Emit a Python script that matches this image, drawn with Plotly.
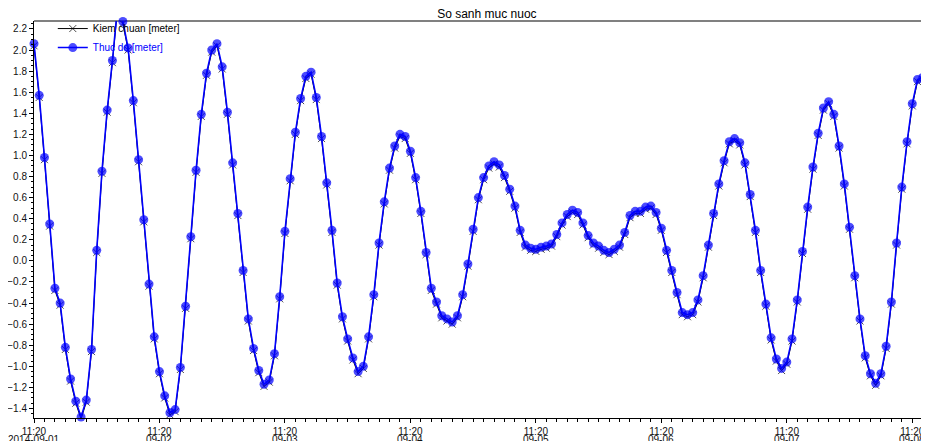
import pandas as pd
import plotly.graph_objects as go

# ---------------- data ----------------
start_time = "2014-09-01 11:20"

thuc_do = [
    2.06, 1.57, 0.98, 0.35, -0.26, -0.40, -0.82, -1.12, -1.33, -1.48,
    -1.32, -0.84, 0.10, 0.85, 1.43, 1.90, 2.42, 2.27, 2.02, 1.52,
    0.96, 0.39, -0.22, -0.72, -1.05, -1.28, -1.44, -1.41, -1.01, -0.43,
    0.23, 0.86, 1.39, 1.78, 2.00, 2.06, 1.84, 1.41, 0.93, 0.45,
    -0.09, -0.55, -0.83, -1.04, -1.17, -1.13, -0.88, -0.34, 0.28, 0.78,
    1.22, 1.54, 1.75, 1.79, 1.55, 1.18, 0.74, 0.29, -0.21, -0.53,
    -0.74, -0.92, -1.05, -1.00, -0.72, -0.32, 0.17, 0.56, 0.88, 1.09,
    1.20, 1.18, 1.04, 0.79, 0.47, 0.08, -0.26, -0.39, -0.52, -0.55,
    -0.58, -0.52, -0.32, -0.03, 0.30, 0.60, 0.79, 0.90, 0.94, 0.91,
    0.81, 0.68, 0.52, 0.29, 0.15, 0.12, 0.11, 0.13, 0.14, 0.16,
    0.25, 0.36, 0.44, 0.48, 0.46, 0.36, 0.24, 0.17, 0.14, 0.10,
    0.08, 0.11, 0.15, 0.27, 0.43, 0.47, 0.47, 0.51, 0.52, 0.46,
    0.31, 0.10, -0.09, -0.30, -0.49, -0.51, -0.49, -0.37, -0.14, 0.15,
    0.45, 0.73, 0.95, 1.13, 1.16, 1.12, 0.93, 0.63, 0.29, -0.09,
    -0.41, -0.73, -0.93, -1.02, -0.96, -0.74, -0.37, 0.09, 0.51, 0.89,
    1.21, 1.45, 1.51, 1.39, 1.09, 0.73, 0.32, -0.14, -0.55, -0.90,
    -1.07, -1.16, -1.07, -0.81, -0.39, 0.17, 0.70, 1.13, 1.49, 1.72,
    1.74, 1.54,
]

kiem_chuan = [
    2.04, 1.55, 0.96, 0.33, -0.28, -0.42, -0.84, -1.14, -1.35, -1.50,
    -1.34, -0.86, 0.08, 0.83, 1.41, 1.88, 2.40, 2.25, 2.00, 1.50,
    0.94, 0.37, -0.24, -0.74, -1.07, -1.30, -1.46, -1.43, -1.03, -0.45,
    0.21, 0.84, 1.37, 1.76, 1.98, 2.04, 1.82, 1.39, 0.91, 0.43,
    -0.11, -0.57, -0.85, -1.06, -1.19, -1.15, -0.90, -0.36, 0.26, 0.76,
    1.20, 1.52, 1.73, 1.77, 1.53, 1.16, 0.72, 0.27, -0.23, -0.55,
    -0.76, -0.94, -1.07, -1.02, -0.74, -0.34, 0.15, 0.54, 0.86, 1.07,
    1.18, 1.16, 1.02, 0.77, 0.45, 0.06, -0.28, -0.41, -0.54, -0.57,
    -0.60, -0.54, -0.34, -0.05, 0.28, 0.58, 0.77, 0.88, 0.92, 0.89,
    0.79, 0.66, 0.50, 0.27, 0.13, 0.10, 0.09, 0.11, 0.12, 0.14,
    0.23, 0.34, 0.42, 0.46, 0.44, 0.34, 0.22, 0.15, 0.12, 0.08,
    0.06, 0.09, 0.13, 0.25, 0.41, 0.45, 0.45, 0.49, 0.50, 0.44,
    0.29, 0.08, -0.11, -0.32, -0.51, -0.53, -0.51, -0.39, -0.16, 0.13,
    0.43, 0.71, 0.93, 1.11, 1.14, 1.10, 0.91, 0.61, 0.27, -0.11,
    -0.43, -0.75, -0.95, -1.04, -0.98, -0.76, -0.39, 0.07, 0.49, 0.87,
    1.19, 1.43, 1.49, 1.37, 1.07, 0.71, 0.30, -0.16, -0.57, -0.92,
    -1.09, -1.18, -1.09, -0.83, -0.41, 0.15, 0.68, 1.11, 1.47, 1.70,
    1.72, 1.52,
]

tick_times = [
    "2014-09-01 11:20", "2014-09-02 11:20", "2014-09-03 11:20", "2014-09-04 11:20",
    "2014-09-05 11:20", "2014-09-06 11:20", "2014-09-07 11:20", "2014-09-08 11:20",
]
tick_time_labels = ["11:20"] * 8
tick_date_labels = [
    "2014-09-01", "09-02", "09-03", "09-04", "09-05", "09-06", "09-07", "09-08",
]

series_names = ["Kiem chuan [meter]", "Thuc do [meter]"]

# ---------------- figure ----------------
# the page body has an 8px default margin, so the figure is sized/offset to compensate
times = pd.date_range(start_time, periods=len(thuc_do), freq="h")
y_range = [-1.49, 2.275]
x_range = [pd.Timestamp(start_time), pd.Timestamp(start_time) + pd.Timedelta(minutes=171.2 * 60)]

def sizes(vals, s):
    return [0 if v > y_range[1] else s for v in vals]

FONT = "Liberation Sans, Arial, sans-serif"
FIG_W, FIG_H = 921, 433

fig = go.Figure()
fig.add_trace(go.Scatter(
    x=times, y=kiem_chuan, name=series_names[0], mode="lines+markers",
    line=dict(color="black", width=1),
    marker=dict(symbol="x-thin", size=sizes(kiem_chuan, 7), color="black",
                line=dict(color="black", width=1)),
    cliponaxis=False,
))
fig.add_trace(go.Scatter(
    x=times, y=thuc_do,
    name="<span style='color:#0000ff'>" + series_names[1] + "</span>",
    mode="lines+markers",
    line=dict(color="#0000ff", width=1.6),
    marker=dict(symbol="circle", size=sizes(thuc_do, 9), color="#0000ff",
                line=dict(width=0)),
    cliponaxis=False,
))

annotations = [
    dict(x=t, y=0, xref="x", yref="paper", text=d, showarrow=False,
         xanchor="center", yanchor="middle", yshift=-21,
         font=dict(family=FONT, size=10, color="#111"))
    for t, d in zip(tick_times, tick_date_labels)
]

fig.update_layout(
    width=FIG_W, height=FIG_H,
    margin=dict(l=26, r=0, t=13, b=23, pad=0, autoexpand=False),
    paper_bgcolor="white", plot_bgcolor="white",
    font=dict(family=FONT, size=10, color="#111"),
    title=dict(text="So sanh muc nuoc", x=0.506, xref="paper", xanchor="center",
               y=1 - 5.5 / FIG_H, yanchor="middle",
               font=dict(family=FONT, size=12, color="black")),
    showlegend=True,
    legend=dict(x=0.021, y=1.0175, xanchor="left", yanchor="top",
                bgcolor="rgba(0,0,0,0)", borderwidth=0,
                font=dict(family=FONT, size=10, color="black"),
                tracegroupgap=0),
    annotations=annotations,
    xaxis=dict(
        type="date", range=x_range, automargin=False,
        tickmode="array", tickvals=tick_times, ticktext=tick_time_labels,
        showgrid=False, zeroline=False,
        showline=True, linecolor="black", linewidth=1,
        ticks="outside", ticklen=4, tickcolor="black", tickwidth=1,
        tickfont=dict(family=FONT, size=10, color="#111"),
        minor=dict(tickmode="linear", tick0=start_time, dtick=2 * 3600 * 1000,
                   ticks="outside", ticklen=3, tickcolor="black", showgrid=False),
    ),
    yaxis=dict(
        range=y_range, automargin=False,
        tickmode="linear", tick0=0, dtick=0.2, tickformat=".1f",
        showgrid=False, zeroline=False,
        showline=True, linecolor="black", linewidth=1,
        ticks="outside", ticklen=4, tickcolor="black", tickwidth=1,
        tickfont=dict(family=FONT, size=10, color="#111"),
        minor=dict(tickmode="linear", tick0=0, dtick=0.05,
                   ticks="outside", ticklen=2, tickcolor="black", showgrid=False),
    ),
    shapes=[dict(type="line", xref="paper", yref="paper", x0=0, x1=1, y0=1, y1=1,
                 line=dict(color="#808080", width=2), layer="below")],
)

fig.write_html("out.html")
